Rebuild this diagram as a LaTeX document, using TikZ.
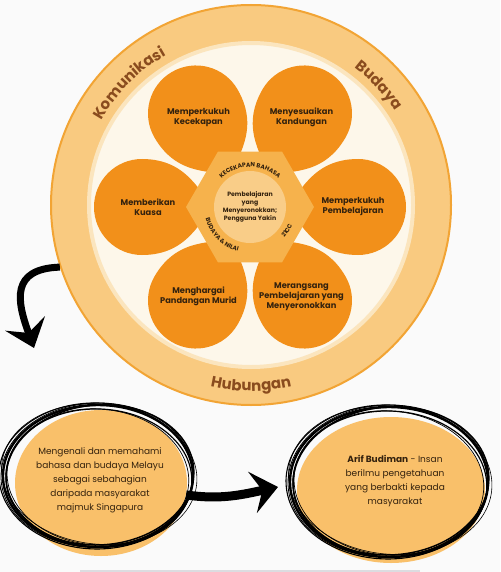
\documentclass[tikz,border=0pt]{standalone}
\usepackage{fontspec}
\setmainfont{Poppins}
\usepackage{tikz}
\usetikzlibrary{arrows.meta,shapes.geometric,positioning,decorations.text,calc}
\definecolor{ffbg}{RGB}{250,250,250}
\definecolor{ffring}{RGB}{249,202,128}
\definecolor{ffringedge}{RGB}{242,164,52}
\definecolor{ffcream}{RGB}{253,247,234}
\definecolor{ffpale}{RGB}{251,229,190}
\definecolor{ffpetal}{RGB}{242,144,26}
\definecolor{ffhex}{RGB}{246,178,76}
\definecolor{ffcore}{RGB}{249,205,136}
\definecolor{ffbrown}{RGB}{138,76,30}
\definecolor{ffdark}{RGB}{52,34,14}
\definecolor{ffsoft}{RGB}{249,192,106}
\definecolor{ffrule}{RGB}{220,220,224}
\newcommand\ringfont{\bfseries\fontsize{15}{15}\selectfont}
\newcommand\hexfont{\bfseries\fontsize{6}{6}\selectfont}
\tikzstyle{petal} = [fill=ffpetal]
\tikzstyle{petaltext} = [text=ffdark, font=\bfseries\fontsize{8.3}{10}\selectfont, align=center]
\tikzstyle{coretext} = [circle, fill=ffcore, minimum size=72pt, inner sep=0pt, text=ffdark, font=\bfseries\fontsize{6.2}{8.2}\selectfont, align=center]
\tikzstyle{bubble} = [ellipse, fill=ffsoft, inner sep=0pt]
\tikzstyle{bubbletext} = [text=ffdark, font=\fontsize{9}{14}\selectfont, align=center]
\tikzstyle{brush} = [draw=black, line cap=round]
\tikzstyle{bigarrow} = [black, -{Stealth[length=26pt, width=42pt, inset=10pt]}]

\begin{document}
\begin{tikzpicture}[x=1pt, y=1pt]
\useasboundingbox (0,0) rectangle (500,-572);
\fill[ffbg] (0,0) rectangle (500,-572);

% Outer ring and cream disc
\node (ring) [circle, minimum size=400pt, inner sep=0pt, fill=ffring, draw=ffringedge, line width=2pt] at (251,-205) {};
\node (inner) [circle, minimum size=324pt, inner sep=0pt, fill=ffcream, draw=ffpale, line width=4pt] at (251,-205) {};

% Ring labels
\path[decorate, decoration={text along path, text align=center, text color=ffbrown, text={|\ringfont|Komunikasi}}]
  ($(ring.center)+(160:172)$) arc[start angle=160, end angle=110, radius=172];
\path[decorate, decoration={text along path, text align=center, text color=ffbrown, text={|\ringfont|Budaya}}]
  ($(ring.center)+(68:172)$) arc[start angle=68, end angle=18, radius=172];
\path[decorate, decoration={text along path, text align=center, text color=ffbrown, text={|\ringfont|Hubungan}}]
  ($(ring.center)+(245:186)$) arc[start angle=245, end angle=295, radius=186];

% Petals
\coordinate (hub) at (250,-207);
\foreach \a in {0,60,...,300}
  \fill[petal, shift={(hub)}, rotate=\a] (35,0) .. controls (50,10) and (60,48) .. (108,48)
    arc[start angle=90, end angle=-90, radius=48] .. controls (60,-48) and (50,-10) .. cycle;

\node (kecekapan) [petaltext] at ($(hub)+(120:103)$) {Memperkukuh\\Kecekapan};
\node (kandungan) [petaltext] at ($(hub)+(60:103)$) {Menyesuaikan\\Kandungan};
\node (kuasa) [petaltext] at ($(hub)+(180:102)$) {Memberikan\\Kuasa};
\node (pembelajaran) [petaltext] at ($(hub)+(0:103)$) {Memperkukuh\\Pembelajaran};
\node (pandangan) [petaltext] at ($(hub)+(240:103)$) {Menghargai\\Pandangan Murid};
\node (merangsang) [petaltext] at ($(hub)+(300:103)$) {Merangsang\\Pembelajaran yang\\Menyeronokkan};

% Hexagon and core
\fill[ffhex] (hub) +(0:64) -- +(60:64) -- +(120:64) -- +(180:64) -- +(240:64) -- +(300:64) -- cycle;
\node (core) [coretext] at (hub) {Pembelajaran\\yang\\Menyeronokkan;\\Pengguna Yakin};
\path[decorate, decoration={text along path, text align=center, text color=ffdark, text={|\hexfont|KECEKAPAN BAHASA}}]
  ($(hub)+(160:40)$) arc[start angle=160, end angle=20, radius=40];
\path[decorate, decoration={text along path, text align=center, text color=ffdark, text={|\hexfont|BUDAYA {\&} NILAI}}]
  ($(hub)+(170:46)$) arc[start angle=170, end angle=280, radius=46];
\path[decorate, decoration={text along path, text align=center, text color=ffdark, text={|\hexfont|21CC}}]
  ($(hub)+(-55:46)$) arc[start angle=-55, end angle=-10, radius=46];

% Bottom bubbles
\node (goal) [bubble, minimum width=172pt, minimum height=146pt] at (101,-483) {};
\node (vision) [bubble, minimum width=188pt, minimum height=146pt] at (391,-490) {};
\foreach \dx/\dy/\rx/\ry/\rot/\w in {0/0/95/71/0/2.4pt, 1/-2/93/69/-3/1.2pt, -1/1/96/72/2/0.8pt, 2/1/94/70/4/1.5pt, 0/-1/91/68/-5/0.7pt, -2/0/97/73/-1/1.1pt, 1/2/98/70/-6/0.6pt}
  \draw[brush, line width=\w, shift={(98,-476)}, rotate=\rot] (\dx,\dy) ellipse [x radius=\rx, y radius=\ry];
\foreach \dx/\dy/\rx/\ry/\rot/\w in {0/0/99/75/0/2.4pt, 1/-2/97/73/-3/1.2pt, -1/1/100/76/2/0.8pt, 2/1/98/74/4/1.5pt, 0/-1/95/72/-5/0.7pt, -2/0/101/77/-1/1.1pt, 1/2/102/74/-6/0.6pt}
  \draw[brush, line width=\w, shift={(389,-482)}, rotate=\rot] (\dx,\dy) ellipse [x radius=\rx, y radius=\ry];
\node (goaltext) [bubbletext] at (100,-480) {Mengenali dan memahami\\bahasa dan budaya Melayu\\sebagai sebahagian\\daripada masyarakat\\majmuk Singapura};
\node (visiontext) [bubbletext] at (395,-481) {\textbf{Arif Budiman} - Insan\\berilmu pengetahuan\\yang berbakti kepada\\masyarakat};

% Arrows
\coordinate (dropTip) at (34,-348);
\coordinate (linkTip) at (278,-487);
\draw[bigarrow, line width=7pt] (ring.198) to[out=182, in=110, looseness=1.5] (dropTip);
\draw[bigarrow, line width=9pt] (goal.-8) to[out=-8, in=192] (linkTip);

\draw[ffrule, line width=1.5pt] (80,-571) -- (420,-571);
\end{tikzpicture}
\end{document}
